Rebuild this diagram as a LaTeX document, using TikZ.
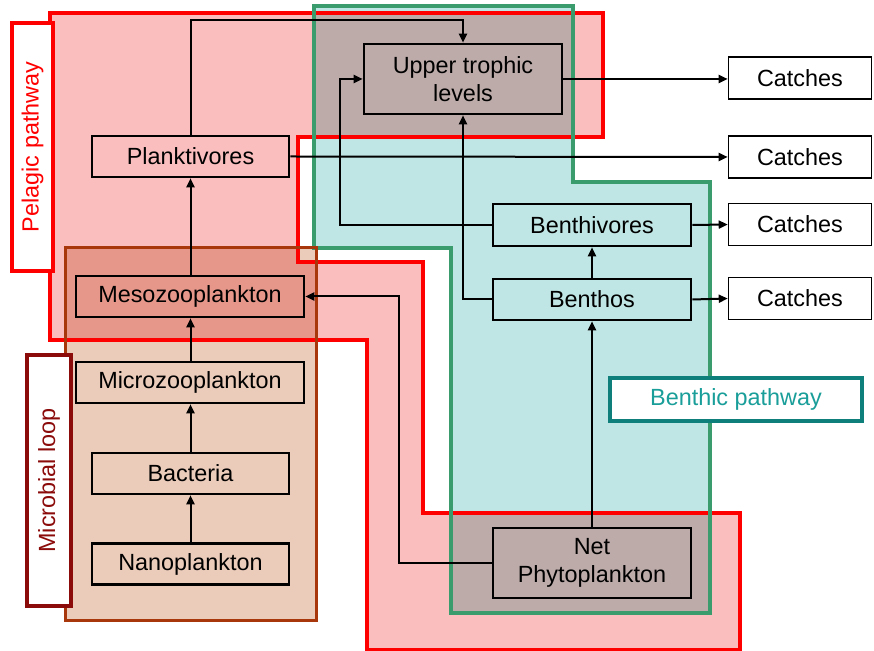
\documentclass[tikz,border=0pt]{standalone}
\usepackage{fontspec}
\setmainfont{Liberation Sans}
\usepackage{tikz}
\usepackage{xcolor}
\usetikzlibrary{arrows.meta,positioning,calc}
\definecolor{pelfill}{HTML}{FBBEBE}
\definecolor{pelline}{HTML}{FF0000}
\definecolor{benfill}{HTML}{BFE6E4}
\definecolor{benline}{HTML}{3A9B6C}
\definecolor{micfill}{HTML}{EBCBBA}
\definecolor{micline}{HTML}{A8380C}
\definecolor{miclab}{HTML}{8B0A0A}
\definecolor{benlab}{HTML}{0E7F7A}
\definecolor{bentext}{HTML}{1A9E9A}
\tikzset{
  txt/.style={font=\fontsize{11.7}{14}\selectfont},
  pool/.style={txt,draw=black,line width=1.3pt,align=center,inner sep=0pt,
               minimum height=20.5pt},
  catchbox/.style={txt,draw=black,fill=white,line width=0.8pt,inner sep=0pt,
                   minimum width=71.5pt,minimum height=21pt},
  lab/.style={txt,fill=white,line width=2pt,inner sep=0pt},
  flowarr/.style={-{Triangle[length=4.5pt,width=4pt]},line width=1pt,draw=black}
}
\begin{document}
\begin{tikzpicture}[x=0.5pt,y=-0.5pt]
    \path[use as bounding box] (0,0) rectangle (874,651);
    % pathway regions
    \begin{scope}[blend group=multiply]
      \fill[micfill] (65,248) rectangle (316,621);
      \fill[benfill] (314,6) -- (573,6) -- (573,182) -- (710,182) -- (710,613)
        -- (451,613) -- (451,248) -- (314,248) -- cycle;
      \fill[pelfill] (50,13) -- (603,13) -- (603,137) -- (298,137) -- (298,262)
        -- (423,262) -- (423,513) -- (740,513) -- (740,650) -- (367,650)
        -- (367,340) -- (50,340) -- cycle;
    \end{scope}
    \draw[pelline,line width=2pt] (50,13) -- (603,13) -- (603,137) -- (298,137)
      -- (298,262) -- (423,262) -- (423,513) -- (740,513) -- (740,650)
      -- (367,650) -- (367,340) -- (50,340) -- cycle;
    \draw[benline,line width=1.8pt] (314,6) -- (573,6) -- (573,182) -- (710,182)
      -- (710,613) -- (451,613) -- (451,248) -- (314,248) -- cycle;
    \draw[micline,line width=1.5pt] (65,248) rectangle (316,621);
    % labels
    \node[lab,draw=pelline,text=pelline,rotate=90,minimum width=124pt,
      minimum height=20.5pt] (pelagiclab) at (32.5,147) {Pelagic pathway};
    \node[lab,draw=miclab,text=miclab,rotate=90,minimum width=125.5pt,
      minimum height=22pt] (microlab) at (49,480.5) {Microbial loop};
    \node[lab,draw=benlab,text=bentext,minimum width=126pt,
      minimum height=21.5pt] (benthiclab) at (736,399.5) {Benthic pathway};
    % pools
    \node[pool,minimum width=99pt,minimum height=35pt] (upper) at (463,79)
      {Upper trophic\\levels};
    \node[pool,minimum width=98.5pt] (plankt) at (190.5,156.5) {Planktivores};
    \node[pool,minimum width=114pt] (meso) at (190,296.5) {Mesozooplankton};
    \node[pool,minimum width=114pt] (micro) at (190,382.5) {Microzooplankton};
    \node[pool,minimum width=98.5pt] (bact) at (190.5,473.5) {Bacteria};
    \node[pool,minimum width=98.5pt] (nano) at (190.5,564) {Nanoplankton};
    \node[pool,minimum width=99pt,minimum height=21pt] (benthiv) at (592,225)
      {Benthivores};
    \node[pool,minimum width=99pt] (benthos) at (592,299.5) {Benthos};
    \node[pool,minimum width=99pt,minimum height=35pt] (phyto) at (592,563)
      {Net\\Phytoplankton};
    \node[catchbox] (catchA) at (800,78) {Catches};
    \node[catchbox] (catchB) at (800,157) {Catches};
    \node[catchbox] (catchC) at (800,224.5) {Catches};
    \node[catchbox] (catchD) at (800,298.5) {Catches};
    % flows
    \coordinate (ptop) at (190.5,20);
    \coordinate (phyturn) at (399,563);
    \coordinate (bvturn) at (340,225);
    \draw[flowarr] (plankt.north) -- (ptop) -| (upper.north);
    \draw[flowarr] (nano) -- (bact);
    \draw[flowarr] (bact) -- (micro.south -| bact);
    \draw[flowarr] (micro.north -| bact) -- (meso.south -| bact);
    \draw[flowarr] (meso.north -| plankt) -- (plankt);
    \draw[flowarr] (phyto.west) -- (phyturn) |- (meso.east);
    \draw[flowarr] (phyto) -- (benthos);
    \draw[flowarr] (benthos) -- (benthiv);
    \draw[flowarr] (benthos.west) -| (upper.south);
    \draw[flowarr] (benthiv.west) -- (bvturn) |- (upper.west);
    \draw[flowarr] (upper.east) -- (upper.east -| catchA.west);
    \draw[flowarr] (plankt.east) -- (catchB.west);
    \draw[flowarr] (benthiv.east) -- (catchC.west);
    \draw[flowarr] (benthos.east) -- (catchD.west);
\end{tikzpicture}
\end{document}
